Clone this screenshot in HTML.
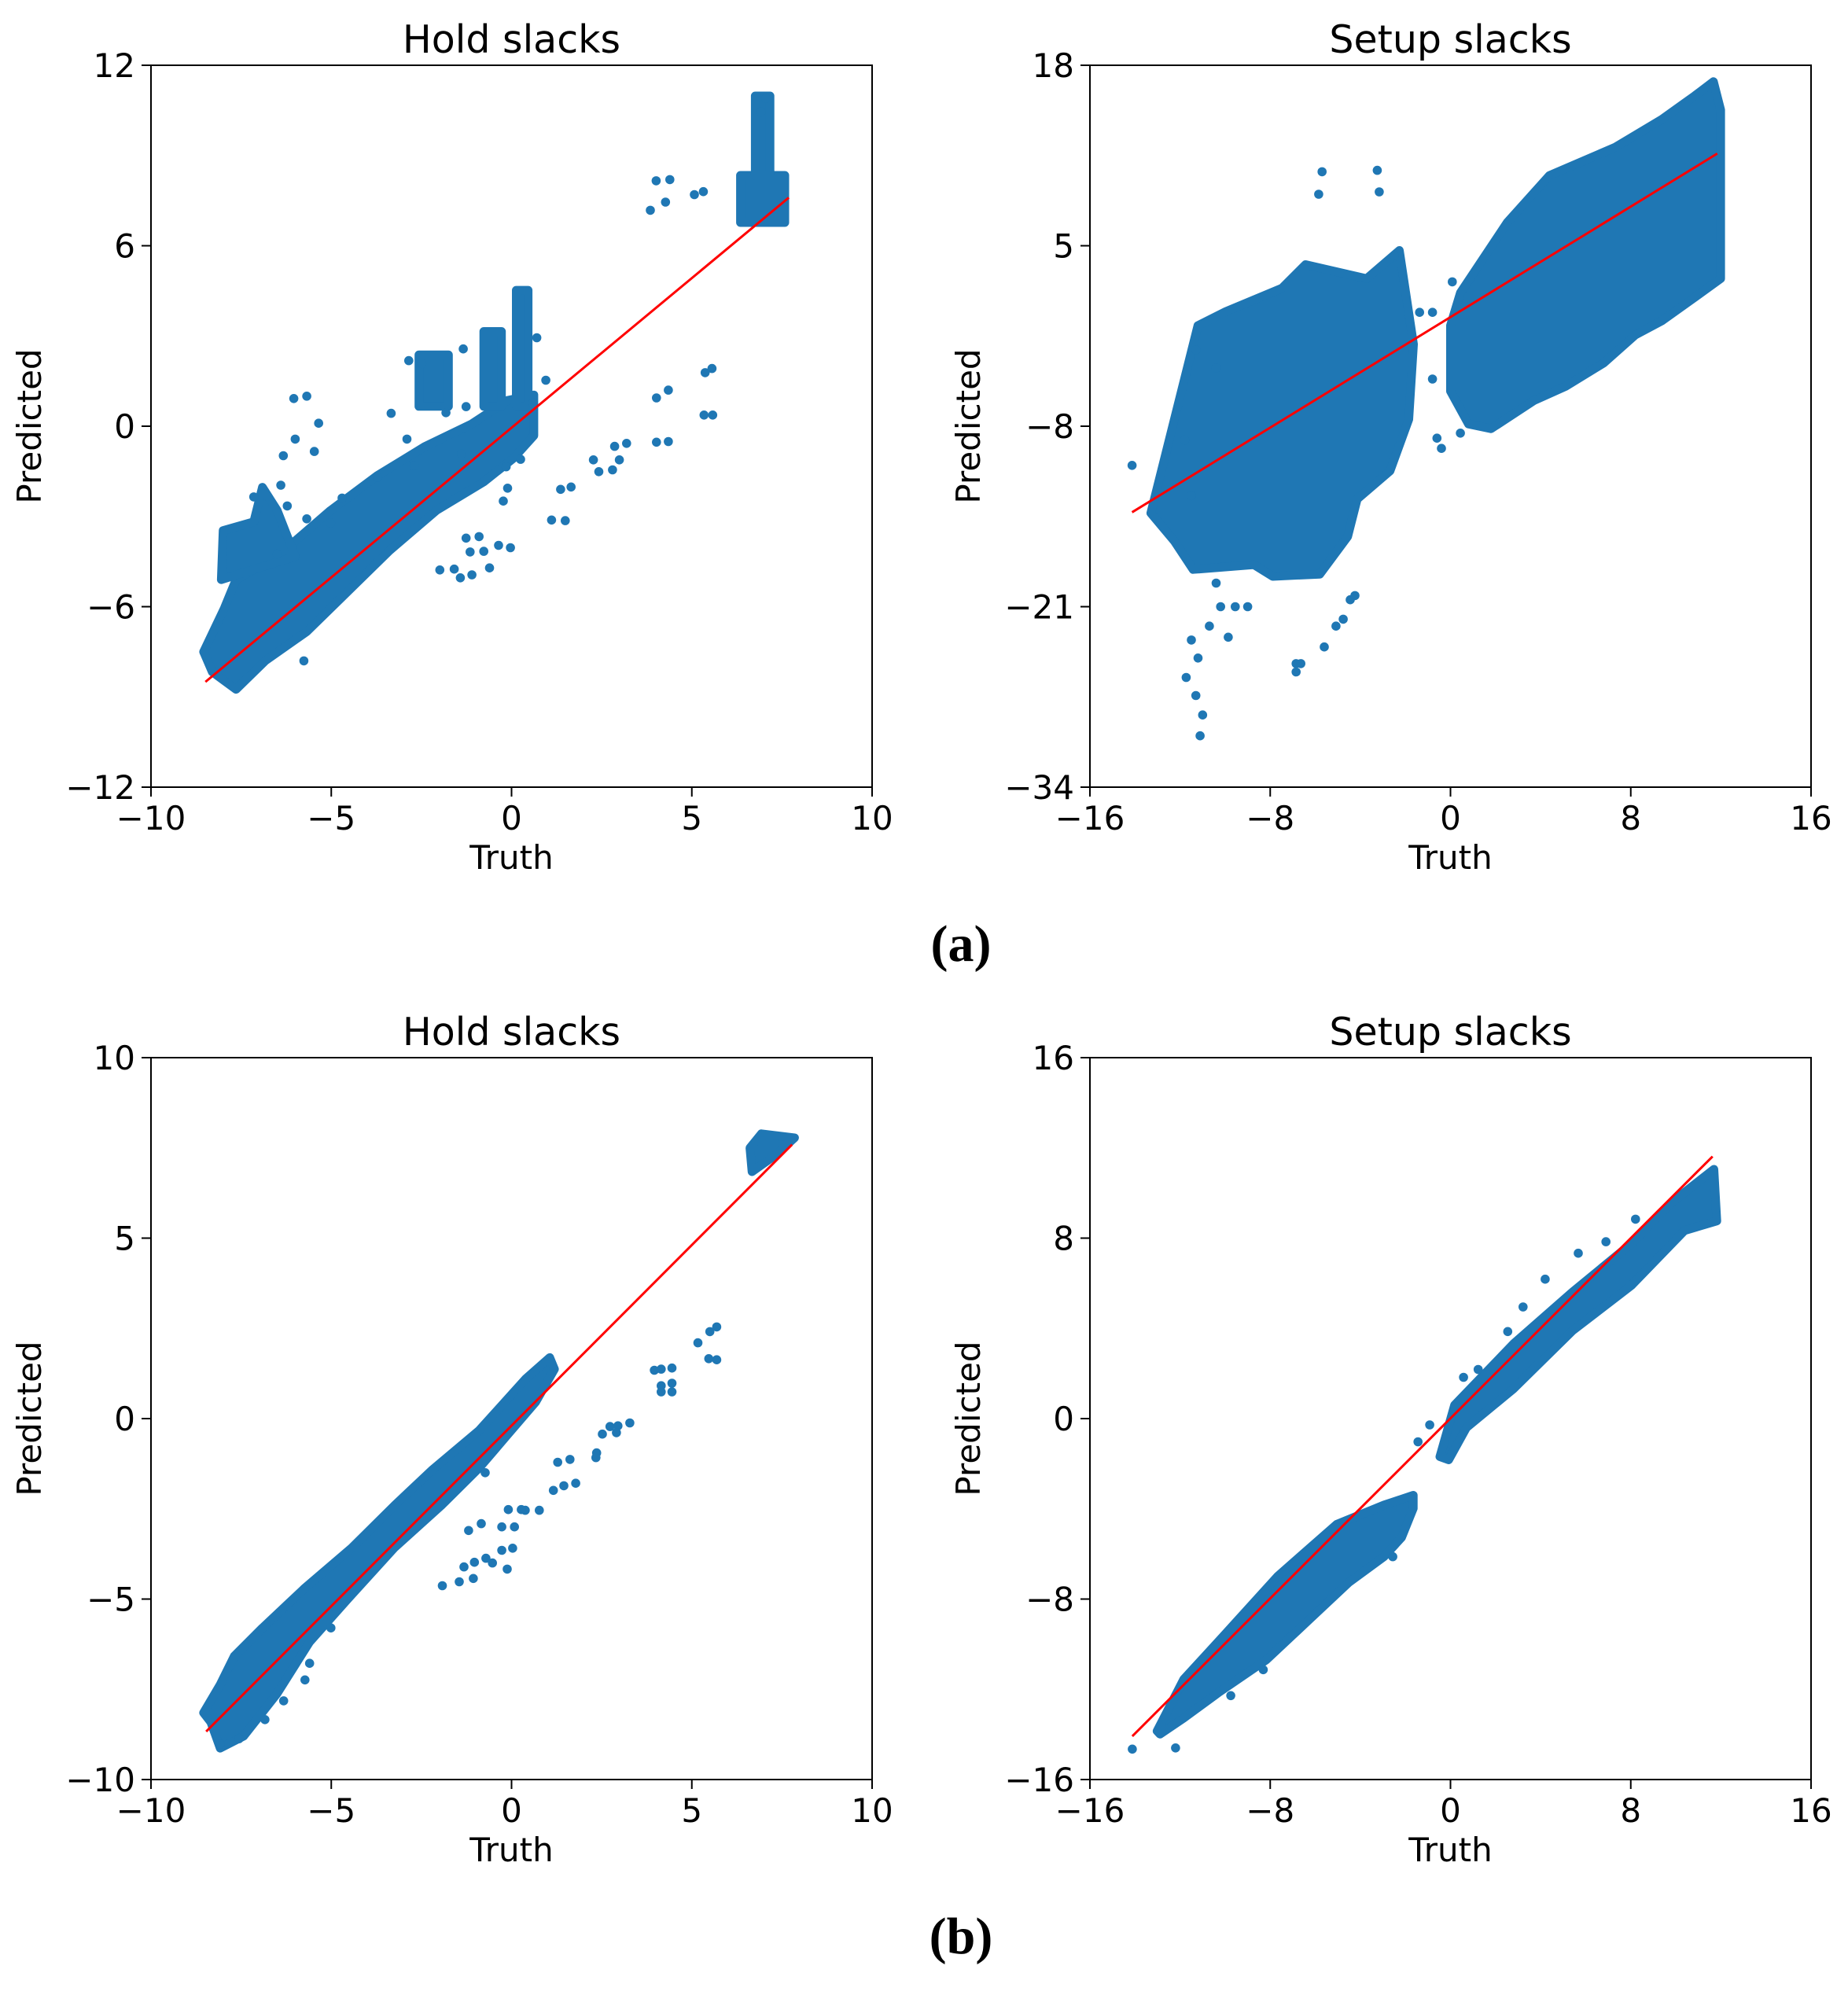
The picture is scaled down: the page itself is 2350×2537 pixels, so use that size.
<!DOCTYPE html>
<html><head><meta charset="utf-8">
<style>
html,body{margin:0;padding:0;background:#fff;}
svg{display:block;}
text{font-family:"DejaVu Sans","Liberation Sans",sans-serif;fill:#000;}
.cap{font-family:"Liberation Serif",serif;font-weight:bold;}
</style></head>
<body>
<svg id="fig" width="2350" height="2537" viewBox="0 0 2350 2537" xmlns="http://www.w3.org/2000/svg">
<text class="cap" x="1222" y="1222" font-size="66" text-anchor="middle">(a)</text>
<text class="cap" x="1222" y="2484" font-size="66" text-anchor="middle">(b)</text>
</svg>
<script>
// ---------- Data (Truth, Predicted) ----------
// (a) Hold slacks
const holdA_xTicks = [-10, -5, 0, 5, 10];
const holdA_yTicks = [12, 6, 0, -6, -12];
const holdA_clouds = [
  [[-8.54,-7.5],[-7.97,-6.06],[-7.64,-5.1],[-6.5,-4.33],[-5.02,-2.8],[-3.72,-1.64],[-2.41,-0.68],[-1.1,0.08],[-0.11,0.86],[0.62,1.04],[0.62,-0.31],[0.05,-1.07],[-0.77,-1.85],[-2.08,-2.8],[-3.39,-4.14],[-4.7,-5.68],[-5.68,-6.83],[-6.82,-7.79],[-7.64,-8.75],[-8.3,-8.17]],
  [[-8.05,-5.1],[-8.0,-3.47],[-7.15,-3.18],[-6.91,-2.03],[-6.5,-2.8],[-6.0,-4.33]],
  [[0.13,4.52],[0.46,4.52],[0.46,0.66],[0.13,0.66]],
  [[-0.77,3.15],[-0.28,3.15],[-0.28,0.66],[-0.77,0.66]],
  [[-2.57,2.37],[-1.75,2.37],[-1.75,0.66],[-2.57,0.66]],
  [[6.35,8.34],[7.58,8.34],[7.58,6.77],[6.35,6.77]],
  [[6.76,10.98],[7.17,10.98],[7.17,8.34],[6.76,8.34]]
];
const holdA_points = [[7.05,10.9],[6.92,10.45],[4.01,8.16],[4.39,8.2],[4.27,7.45],[3.85,7.18],[5.07,7.7],[5.32,7.8],[5.56,1.92],[5.37,1.78],[4.35,1.2],[4.02,0.94],[5.34,0.37],[5.58,0.37],[4.02,-0.53],[4.35,-0.51],[3.19,-0.57],[2.86,-0.67],[2.99,-1.12],[2.27,-1.12],[2.42,-1.51],[2.8,-1.45],[1.65,-2.02],[1.36,-2.1],[1.11,-3.12],[1.49,-3.14],[-0.03,-4.04],[-0.36,-3.96],[-0.9,-3.67],[-1.26,-3.72],[-1.15,-4.18],[-0.77,-4.16],[-1.99,-4.78],[-1.59,-4.75],[-1.42,-5.04],[-1.1,-4.94],[-0.61,-4.71],[-5.76,-7.8],[-6.04,0.92],[-5.68,1.0],[-5.35,0.1],[-6.0,-0.43],[-5.47,-0.84],[-6.33,-0.98],[-6.4,-1.96],[-7.15,-2.35],[-6.22,-2.65],[-3.34,0.43],[-2.85,2.18],[-2.49,2.08],[-1.34,2.57],[-1.26,0.65],[-1.82,0.45],[-2.9,-0.43],[-3.72,-1.7],[-4.7,-2.39],[-5.02,-3.22],[-5.68,-3.08],[-6.5,-4.25],[0.7,2.94],[0.95,1.53],[0.59,0.78],[0.25,-1.1],[-0.15,-1.35],[-0.11,-2.06],[-0.23,-2.49],[-1.39,-0.92],[-2.7,-1.31]];
const holdA_fit = [[-8.49,-8.5],[7.69,7.6]];

// (a) Setup slacks
const setupA_xTicks = [-16, -8, 0, 8, 16];
const setupA_yTicks = [18, 5, -8, -21, -34];
const setupA_clouds = [
  [[-12.88,-11.56],[-11.21,-0.75],[-9.97,0.26],[-7.47,1.95],[-6.43,3.64],[-3.72,2.63],[-2.27,4.66],[-1.64,-2.1],[-1.85,-7.51],[-2.68,-11.22],[-4.14,-13.25],[-4.56,-15.95],[-5.8,-18.66],[-7.89,-18.82],[-8.72,-17.98],[-11.42,-18.32],[-12.25,-16.29],[-13.3,-14.26]],
  [[0.0,-0.75],[0.44,1.61],[2.52,6.68],[4.39,10.06],[7.3,12.09],[9.38,14.11],[10.84,15.8],[11.67,16.82],[11.99,14.79],[11.99,2.63],[10.84,1.28],[9.38,-0.41],[8.2,-1.43],[6.8,-3.45],[5.1,-5.14],[3.7,-6.16],[1.8,-8.18],[0.8,-7.84],[0.0,-5.48]]
];
const setupA_points = [[-5.7,10.33],[-5.85,8.71],[-3.25,10.43],[-3.16,8.88],[-14.13,-10.82],[-11.11,-30.3],[-11.0,-28.8],[-11.3,-27.4],[-11.73,-26.1],[-11.2,-24.7],[-11.5,-23.4],[-10.7,-22.4],[-10.2,-21.0],[-9.55,-21.0],[-9.0,-21.0],[-9.86,-23.2],[-10.4,-19.3],[-6.85,-25.1],[-6.64,-25.1],[-6.85,-25.7],[-5.6,-23.9],[-5.08,-22.4],[-4.76,-21.9],[-4.45,-20.5],[-4.24,-20.2],[-0.6,-8.86],[-0.4,-9.6],[0.44,-8.5],[-0.8,-4.6],[0.08,2.4],[-1.37,0.2],[-0.8,0.2],[-2.5,4.3],[-11.3,-2.5],[-10.4,-3.8],[-11.8,-9.0],[-11.5,-13.0]];
const setupA_fit = [[-14.13,-14.2],[11.84,11.64]];

// (b) Hold slacks
const holdB_xTicks = [-10, -5, 0, 5, 10];
const holdB_yTicks = [10, 5, 0, -5, -10];
const holdB_clouds = [
  [[-8.54,-8.15],[-8.08,-7.37],[-7.69,-6.58],[-6.91,-5.8],[-5.73,-4.69],[-4.43,-3.58],[-3.25,-2.41],[-2.21,-1.43],[-0.9,-0.33],[0.4,1.11],[1.06,1.69],[1.19,1.37],[0.67,0.46],[-0.12,-0.46],[-0.9,-1.37],[-1.95,-2.41],[-3.25,-3.58],[-4.56,-5.02],[-5.6,-6.19],[-6.51,-7.63],[-7.43,-8.8],[-8.08,-9.13],[-8.34,-8.41]],
  [[6.61,7.5],[6.93,7.89],[7.85,7.78],[7.32,7.3],[6.67,6.84]]
];
const holdB_points = [[5.69,2.54],[5.5,2.41],[5.17,2.1],[5.47,1.66],[5.69,1.63],[3.96,1.34],[4.15,1.37],[4.45,1.4],[4.15,0.91],[4.45,0.98],[4.15,0.74],[4.45,0.74],[3.28,-0.12],[2.95,-0.2],[2.73,-0.22],[2.91,-0.39],[2.52,-0.43],[2.36,-0.95],[2.34,-1.08],[1.28,-1.21],[1.62,-1.13],[1.78,-1.79],[1.45,-1.86],[1.16,-1.99],[0.77,-2.54],[0.38,-2.54],[0.27,-2.52],[-0.09,-2.52],[0.08,-3.0],[-0.27,-3.0],[-0.84,-2.91],[-1.19,-3.1],[0.03,-3.59],[-0.27,-3.65],[-0.12,-4.17],[-0.53,-4.0],[-0.71,-3.87],[-1.03,-3.98],[-1.32,-4.11],[-1.06,-4.43],[-1.45,-4.52],[-1.92,-4.63],[-0.73,-1.5],[-5.01,-5.8],[-5.6,-6.78],[-5.73,-7.24],[-6.32,-7.82],[-6.84,-8.34],[-7.56,-8.87],[-8.08,-9.02]];
const holdB_fit = [[-8.47,-8.67],[7.78,7.59]];

// (b) Setup slacks
const setupB_xTicks = [-16, -8, 0, 8, 16];
const setupB_yTicks = [16, 8, 0, -8, -16];
const setupB_clouds = [
  [[-13.02,-13.85],[-11.84,-11.56],[-10.01,-9.56],[-7.66,-6.98],[-5.05,-4.69],[-2.95,-3.83],[-1.65,-3.4],[-1.65,-3.98],[-2.17,-5.27],[-2.95,-6.12],[-4.52,-7.27],[-6.35,-8.99],[-8.18,-10.7],[-10.27,-12.13],[-11.84,-13.28],[-12.89,-13.99]],
  [[-0.47,-1.69],[0.18,0.6],[2.8,3.32],[5.41,5.61],[8.03,7.76],[9.86,9.62],[11.69,11.05],[11.82,8.76],[10.38,8.33],[8.03,5.9],[5.41,3.89],[2.8,1.32],[0.71,-0.4],[-0.08,-1.83]]
];
const setupB_points = [[-14.12,-14.65],[-12.2,-14.6],[-0.92,-0.28],[-1.44,-1.03],[8.21,8.84],[6.9,7.84],[5.67,7.33],[4.2,6.18],[3.22,4.95],[2.54,3.86],[1.23,2.18],[0.58,1.83],[-2.56,-6.12],[-8.31,-11.13],[-9.75,-12.28]];
const setupB_fit = [[-14.12,-14.08],[11.63,11.62]];

// ---------- Rendering ----------
const NS = 'http://www.w3.org/2000/svg';
const svg = document.getElementById('fig');
const BLUE = '#1f77b4';

function mk(tag, attrs, parent) {
  const e = document.createElementNS(NS, tag);
  for (const k in attrs) e.setAttribute(k, attrs[k]);
  parent.appendChild(e);
  return e;
}

function drawPlot(key, title, L, T, W, H, xt, yt, clouds, pts, fit) {
  const g = mk('g', {}, svg);
  
  
  const x0 = xt[0], x1 = xt[xt.length - 1];
  const yTop = yt[0], yBot = yt[yt.length - 1];
  const sx = v => L + (v - x0) / (x1 - x0) * W;
  const sy = v => T + (yTop - v) / (yTop - yBot) * H;

  const t = mk('text', {x: L + W / 2, y: T - 16, 'font-size': 49, 'text-anchor': 'middle'}, g);
  t.textContent = title;
  
  

  const cg = mk('g', {}, g);
  
  
  clouds.forEach(poly => {
    const p = mk('polygon', {points: poly.map(q => sx(q[0]).toFixed(1) + ',' + sy(q[1]).toFixed(1)).join(' '),
      fill: BLUE, stroke: BLUE, 'stroke-width': 11, 'stroke-linejoin': 'round'}, cg);
    
    
  });
  pts.forEach(q => {
    const c = mk('circle', {cx: sx(q[0]).toFixed(1), cy: sy(q[1]).toFixed(1), r: 5.8, fill: BLUE}, cg);
    
    
  });

  const ln = mk('line', {x1: sx(fit[0][0]), y1: sy(fit[0][1]), x2: sx(fit[1][0]), y2: sy(fit[1][1]), stroke: '#ff0000', 'stroke-width': 3}, g);
  
  

  const fr = mk('rect', {x: L, y: T, width: W, height: H, fill: 'none', stroke: '#000', 'stroke-width': 2}, g);
  
  

  xt.forEach(v => {
    const x = sx(v);
    mk('line', {x1: x, y1: T + H, x2: x, y2: T + H + 12, stroke: '#000', 'stroke-width': 2}, g);
    const tx = mk('text', {x: x, y: T + H + 54, 'font-size': 42, 'text-anchor': 'middle'}, g);
    tx.textContent = v < 0 ? '\u2212' + Math.abs(v) : String(v);
    
    
  });
  yt.forEach(v => {
    const y = sy(v);
    mk('line', {x1: L - 12, y1: y, x2: L, y2: y, stroke: '#000', 'stroke-width': 2}, g);
    const ty = mk('text', {x: L - 20, y: y + 15, 'font-size': 42, 'text-anchor': 'end'}, g);
    ty.textContent = v < 0 ? '\u2212' + Math.abs(v) : String(v);
    
    
  });

  const xl = mk('text', {x: L + W / 2, y: T + H + 104, 'font-size': 42, 'text-anchor': 'middle'}, g);
  xl.textContent = 'Truth';
  
  
  const cx = L - 140, cy = T + H / 2;
  const yl = mk('text', {x: cx, y: cy, 'font-size': 42, 'text-anchor': 'middle', transform: 'rotate(-90 ' + cx + ' ' + cy + ')'}, g);
  yl.textContent = 'Predicted';
  
  
}

drawPlot('hold-a', 'Hold slacks', 192, 83, 917, 918, holdA_xTicks, holdA_yTicks, holdA_clouds, holdA_points, holdA_fit);
drawPlot('setup-a', 'Setup slacks', 1386, 83, 917, 918, setupA_xTicks, setupA_yTicks, setupA_clouds, setupA_points, setupA_fit);
drawPlot('hold-b', 'Hold slacks', 192, 1345, 917, 918, holdB_xTicks, holdB_yTicks, holdB_clouds, holdB_points, holdB_fit);
drawPlot('setup-b', 'Setup slacks', 1386, 1345, 917, 918, setupB_xTicks, setupB_yTicks, setupB_clouds, setupB_points, setupB_fit);
</script>
</body></html>
